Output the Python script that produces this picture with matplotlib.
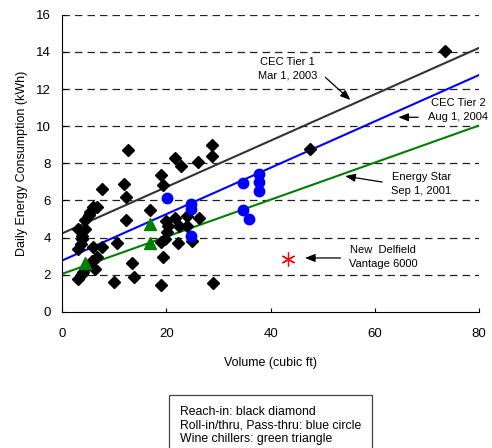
import matplotlib
matplotlib.use("Agg")
import matplotlib.pyplot as plt
import numpy as np

plt.rcParams['font.family'] = ['Liberation Sans', 'DejaVu Sans']

# reach-in units (black diamonds)
reach_x = [3.1, 3.8, 4.1, 4.7, 5.8, 6.4, 6.7, 6.0, 7.6, 3.1, 3.6, 3.9, 3.8,
           3.1, 4.4, 4.5, 5.1, 5.4, 6.0, 6.7, 7.7, 9.9, 10.6, 11.8, 12.3,
           12.7, 12.3, 13.4, 13.9, 16.9, 18.9, 19.0, 19.3, 19.3, 18.9, 19.8,
           20.1, 20.3, 20.0, 21.7, 22.5, 23.9, 24.0, 26.2, 22.3, 24.9, 21.7,
           22.8, 26.0, 28.7, 28.7, 29.0, 47.6, 73.5]
reach_y = [1.77, 2.04, 2.15, 2.49, 2.76, 2.31, 2.95, 3.49, 3.49, 3.36, 3.63,
           3.9, 4.1, 4.46, 4.46, 4.95, 5.2, 5.37, 5.64, 5.64, 6.6, 1.6, 3.7,
           6.88, 6.17, 8.7, 4.96, 2.62, 1.9, 5.5, 1.47, 7.37, 6.83, 2.97,
           3.76, 3.9, 4.3, 4.6, 4.9, 5.04, 4.64, 5.14, 4.6, 5.04, 3.71, 3.83,
           8.26, 7.83, 8.05, 8.98, 8.37, 1.56, 8.76, 14.05]

# roll-in / pass-thru (blue circles)
roll_x = [20.1, 24.8, 24.8, 24.8, 34.8, 37.8, 37.8, 37.8, 34.8, 35.8]
roll_y = [6.13, 5.8, 5.54, 4.1, 6.94, 7.42, 6.97, 6.49, 5.5, 5.0]

# wine chillers (green triangles)
wine_x = [4.4, 16.9, 16.9]
wine_y = [2.63, 4.73, 3.71]

# New Delfield Vantage 6000
delfield_x = [43.4]
delfield_y = [2.85]

# standards: slope, intercept
tier1 = (0.125, 4.22)
tier2 = (0.125, 2.76)
estar = (0.10, 2.04)

fig = plt.figure(figsize=(4.92, 4.48), dpi=100)
ax = fig.add_axes([0.126, 0.304, 0.848, 0.663])

for yy in range(2, 17, 2):
    ax.axhline(yy, color='#222222', lw=0.9, ls=(0, (6, 4)), zorder=1)

vx = np.array([0, 80])
ax.plot(vx, tier1[0] * vx + tier1[1], color='#333333', lw=1.5, zorder=2)
ax.plot(vx, tier2[0] * vx + tier2[1], color='#0000ff', lw=1.5, zorder=2)
ax.plot(vx, estar[0] * vx + estar[1], color='#008000', lw=1.5, zorder=2)

ax.plot(reach_x, reach_y, 'D', color='black', ms=6, ls='none', zorder=3)
ax.plot(roll_x, roll_y, 'o', color='#0000ff', ms=7.5, ls='none', zorder=3)
ax.plot(wine_x, wine_y, '^', color='#008000', ms=8.5, ls='none', zorder=3)
ax.plot(delfield_x, delfield_y, marker=(6, 2, 0), color='red', ms=10,
        mew=0.9, ls='none', zorder=3)

arrow = dict(arrowstyle='-|>,head_length=0.5,head_width=0.2', color='black',
             lw=0.9, mutation_scale=12, shrinkA=0, shrinkB=0)
fs = 8
ax.text(43.2, 13.1, "CEC Tier 1\nMar 1, 2003", fontsize=fs, ha='center',
        va='center', linespacing=1.5)
ax.annotate("", xy=(55.3, 11.41), xytext=(50.5, 12.63), arrowprops=arrow)
ax.text(76.0, 10.86, "CEC Tier 2\nAug 1, 2004", fontsize=fs, ha='center',
        va='center', linespacing=1.5)
ax.annotate("", xy=(64.5, 10.48), xytext=(68.3, 10.48), arrowprops=arrow)
ax.text(68.9, 6.88, "Energy Star\nSep 1, 2001", fontsize=fs, ha='center',
        va='center', linespacing=1.5)
ax.annotate("", xy=(54.3, 7.31), xytext=(61.4, 6.99), arrowprops=arrow)
ax.text(61.6, 2.96, "New  Delfield\nVantage 6000", fontsize=fs, ha='center',
        va='center', linespacing=1.5)
ax.annotate("", xy=(46.6, 2.9), xytext=(53.4, 2.9), arrowprops=arrow)

ax.set_xlim(0, 80)
ax.set_ylim(0, 16)
ax.set_xticks([0, 20, 40, 60, 80])
ax.set_yticks(range(0, 17, 2))
ax.tick_params(direction='in', length=3, labelsize=9.5, width=0.8)
ax.tick_params(axis='x', pad=12)
ax.tick_params(axis='y', pad=8)
ax.spines['top'].set_visible(False)
ax.spines['right'].set_visible(False)
ax.set_xlabel("Volume (cubic ft)", fontsize=9, labelpad=12)
ax.set_ylabel("Daily Energy Consumption (kWh)", fontsize=9, labelpad=6)

fig.text(0.366, 0.094, "Reach-in: black diamond\nRoll-in/thru, Pass-thru: blue circle\nWine chillers: green triangle",
         fontsize=8.8, ha='left', va='top', linespacing=1.2,
         bbox=dict(boxstyle='square,pad=0.9', fc='white', ec='#444444', lw=0.9))

fig.savefig("out.png", dpi=100)
